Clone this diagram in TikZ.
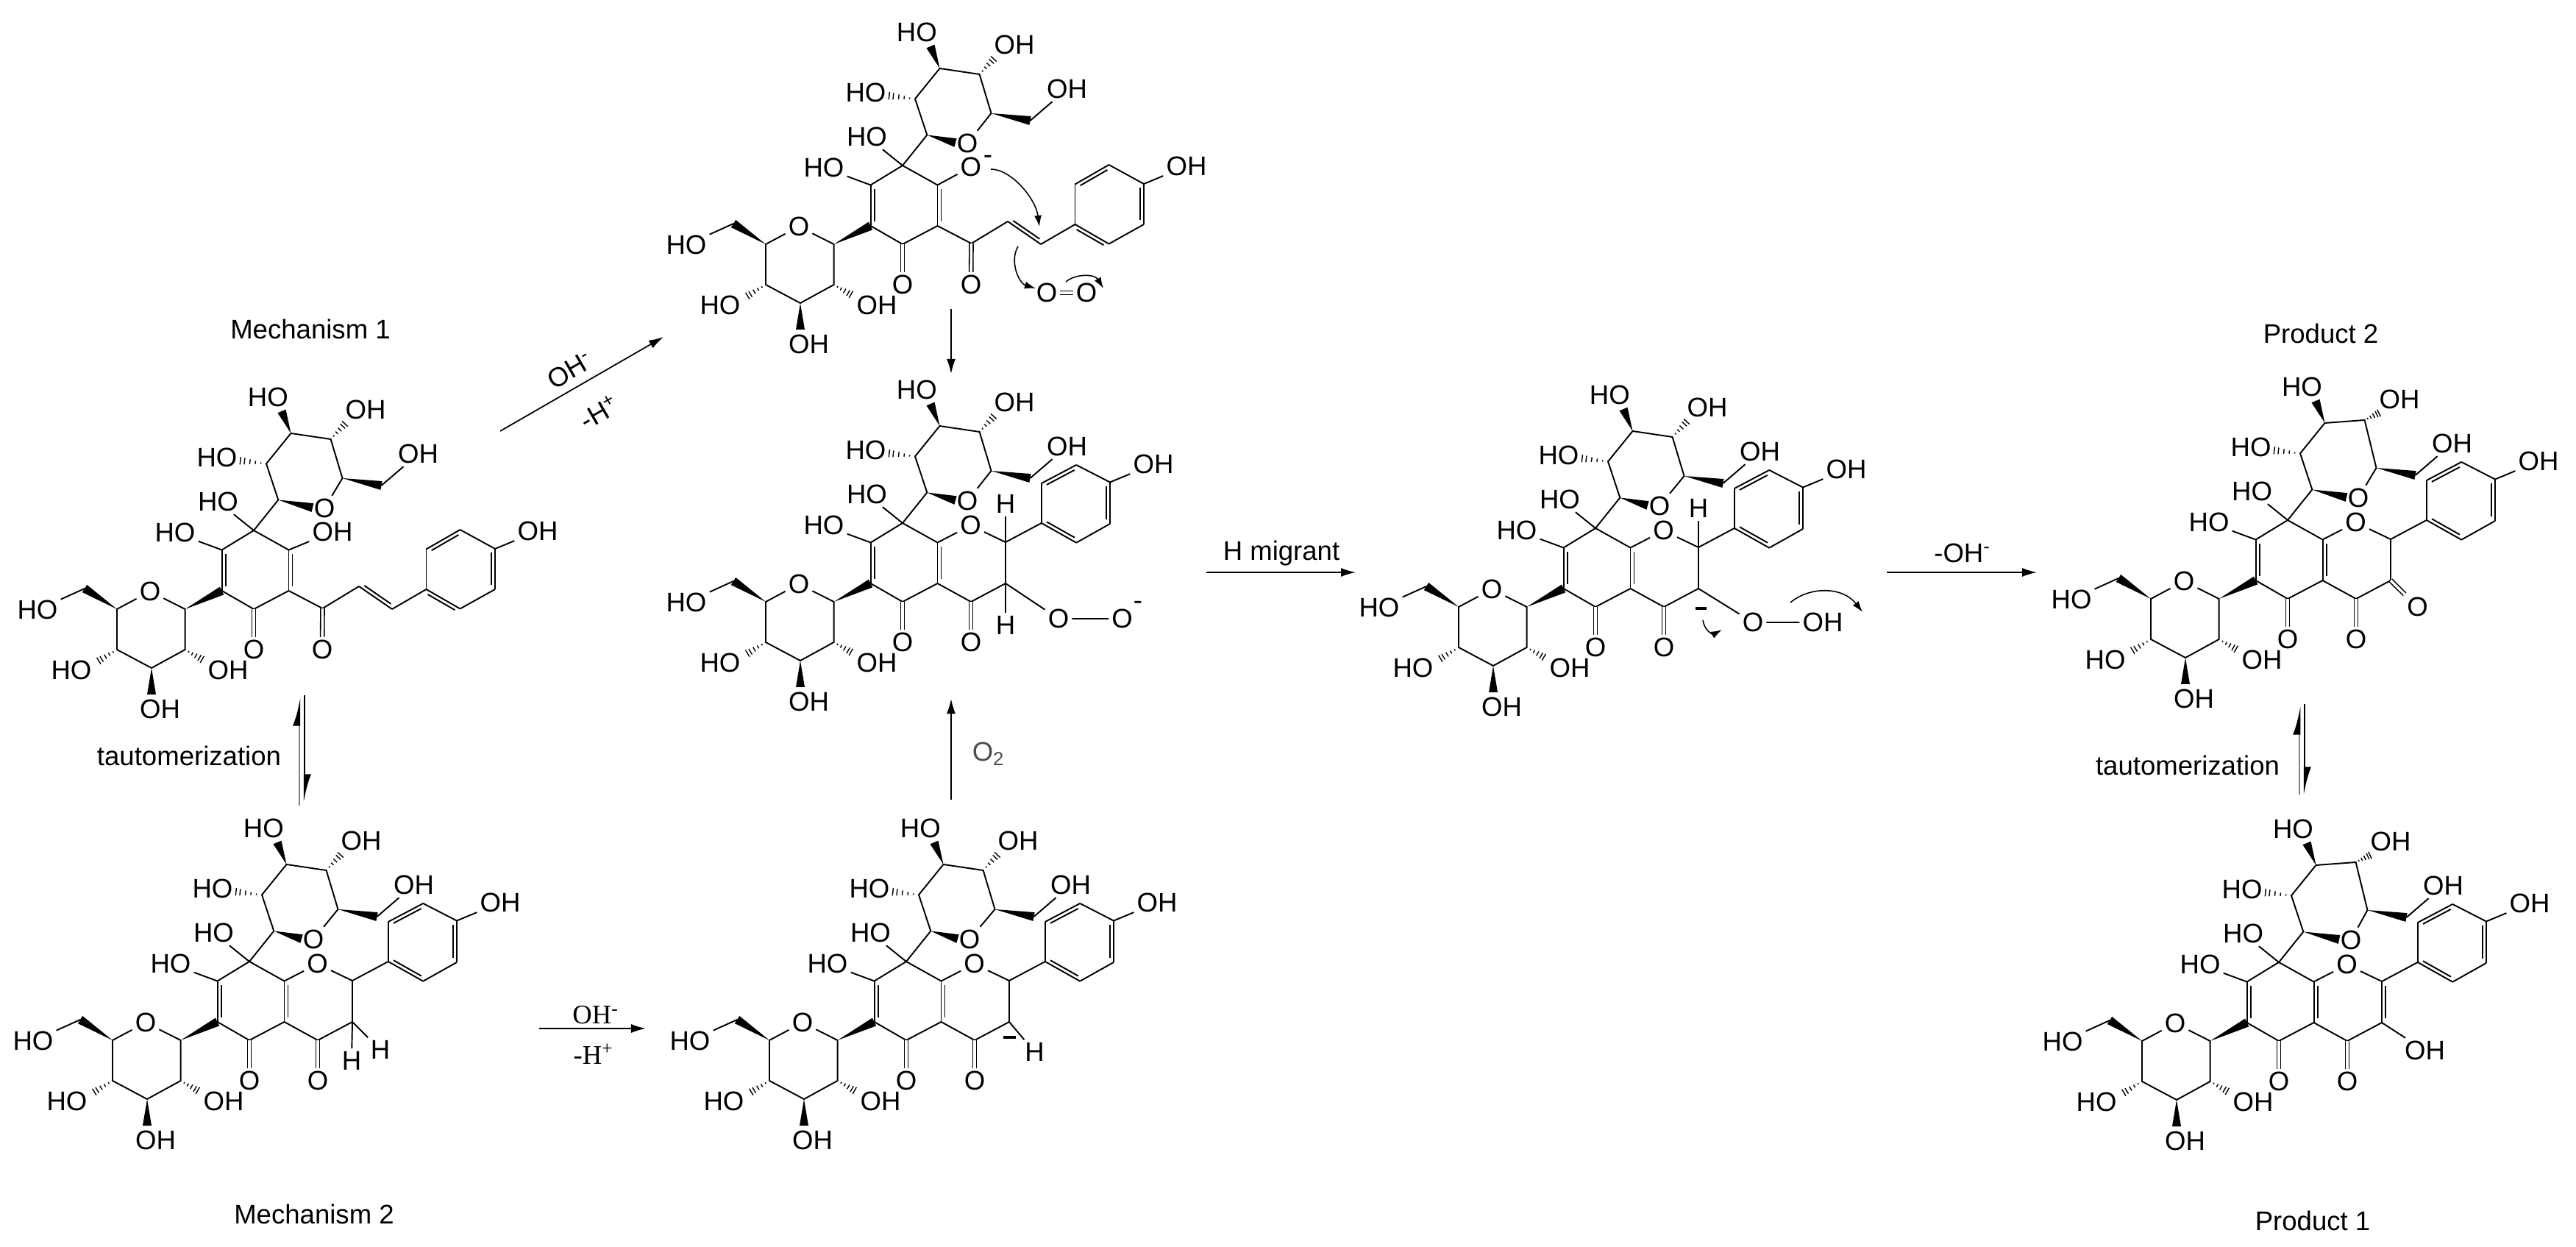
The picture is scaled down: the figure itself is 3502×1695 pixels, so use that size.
\documentclass[tikz,border=0pt]{standalone}
\usepackage{fontspec}
\setmainfont{Liberation Sans}
\newfontfamily\rxnserif{Liberation Serif}
\usetikzlibrary{positioning, arrows.meta, calc}

\tikzset{
  chemfont/.style={font=\fontsize{10.4}{12}\selectfont},
  atom/.style={chemfont, inner sep=1pt},
  bond/.style={line width=0.55pt},
  cobond/.style={line width=0.45pt, double, double distance=0.035cm},
  rxn/.style={line width=0.5pt, -{Latex[length=2mm,width=1.2mm]}},
  eqfwd/.style={line width=0.6pt, -{Latex[left,length=3.2mm,width=1.8mm]}},
  eqback/.style={line width=0.7pt, black!50, -{Latex[left,length=3.2mm,width=1.8mm,color=black]}},
  curl/.style={line width=0.45pt, -{Latex[length=1.5mm,width=1mm]}},
}

\newcommand{\dblbond}[2]{
  \draw[bond] (#1) -- (#2);
  \draw[bond] ($(#1)!0.1!(#2)!0.05cm!90:(#2)$) -- ($(#2)!0.1!(#1)!0.05cm!-90:(#1)$);
}
\newcommand{\wedgebond}[2]{
  \fill (#1) -- ($(#2)!0.06cm!90:(#1)$) -- ($(#2)!0.06cm!-90:(#1)$) -- cycle;
}
\newcommand{\hashbond}[2]{
  \foreach \t in {0.2,0.4,0.6,0.8,0.95}{
    \draw[line width=0.4pt] ($(#1)!\t!(#2)!\t*0.055cm!90:(#2)$) -- ($(#1)!\t!(#2)!\t*0.055cm!-90:(#2)$);
  }
}

% #1 height of S4, #2 x of the upper ring oxygen
\newcommand{\corepart}[2]{
  \coordinate (Cc) at (0,0);
  \coordinate (Ca) at (-43.4,82);
  \coordinate (Cb) at (-43.4,26.5);
  \coordinate (Cd) at (47.5,26.5);
  \coordinate (Ce) at (47.5,82);
  \coordinate (Cf) at (0,107);
  \node[atom] (Of) at (0,162) {O};
  \node[atom] (HOb) at (-107,3) {HO};
  \node[atom] (HOc) at (-48.5,-39) {HO};
  \dblbond{Cb}{Ca}
  \dblbond{Cd}{Ce}
  \draw[bond] (Cb) -- (Cc) -- (Cd);
  \draw[bond] (Ca) -- (Cf) -- (Ce);
  \draw[bond] (Cb) -- (HOb);
  \draw[bond] (Cc) -- (HOc);
  \draw[cobond] (Cf) -- (Of);

  \coordinate (B1) at (-93.4,107);
  \coordinate (B5) at (-186,107);
  \coordinate (B4) at (-186,162);
  \coordinate (B3) at (-139,187);
  \coordinate (B2) at (-93.4,162);
  \coordinate (Bm) at (-230,79);
  \node[atom] (BO) at (-141,83) {O};
  \node[atom] (HOm) at (-294,108) {HO};
  \node[atom] (HO4) at (-248,190) {HO};
  \node[atom] (OH2) at (-35,190) {OH};
  \node[atom] (OH3) at (-127.5,243) {OH};
  \coordinate (B3w) at (-139,223);
  \coordinate (B4h) at (-212,178);
  \coordinate (B2h) at (-69,176);
  \draw[bond] (B1) -- (BO) -- (B5) -- (B4) -- (B3) -- (B2) -- (B1);
  \draw[bond] (Bm) -- (HOm);
  \wedgebond{B1}{Ca}
  \wedgebond{B5}{Bm}
  \wedgebond{B3}{B3w}
  \hashbond{B4}{B4h}
  \hashbond{B2}{B2h}

  \coordinate (S1) at (33.3,-41.5);
  \coordinate (S2) at (17,-90.7);
  \coordinate (S3) at (50.5,-132);
  \coordinate (S4) at (104.6,#1);
  \coordinate (S5) at (120.5,-71);
  \coordinate (Sm) at (173.5,-61);
  \node[atom] (SO) at (#2,-30) {O};
  \node[atom] (OHm) at (223.5,-104) {OH};
  \node[atom] (HOs2) at (-50,-99) {HO};
  \node[atom] (HOs3) at (19.4,-181) {HO};
  \node[atom] (OHs4) at (152,-164) {OH};
  \coordinate (S1w) at ($(SO)+(-16,-1)$);
  \coordinate (S3w) at (38,-162);
  \coordinate (S2h) at (-20,-95);
  \coordinate (S4h) at (125,-146);
  \draw[bond] (Cc) -- (S1) -- (S2) -- (S3) -- (S4) -- (S5) -- (SO);
  \draw[bond] (Sm) -- (OHm);
  \wedgebond{S1}{S1w}
  \wedgebond{S5}{Sm}
  \wedgebond{S3}{S3w}
  \hashbond{S2}{S2h}
  \hashbond{S4}{S4h}
}

\newcommand{\chalconepart}{
  \coordinate (Ci) at (93.5,106);
  \coordinate (V1) at (143,76);
  \coordinate (V2) at (188,107);
  \coordinate (Q1) at (234.5,80);
  \coordinate (Q2) at (234.5,25.5);
  \coordinate (Q3) at (280.5,-1);
  \coordinate (Q4) at (328,25);
  \coordinate (Q5) at (328,80);
  \coordinate (Q6) at (280.5,106.5);
  \node[atom] (Oi) at (93,162) {O};
  \node[atom] (OHq) at (386,1) {OH};
  \draw[bond] (Ce) -- (Ci) -- (V1);
  \draw[cobond] (Ci) -- (Oi);
  \dblbond{V1}{V2}
  \draw[bond] (V2) -- (Q1);
  \dblbond{Q6}{Q1}
  \dblbond{Q3}{Q2}
  \dblbond{Q5}{Q4}
  \draw[bond] (Q1) -- (Q2);
  \draw[bond] (Q3) -- (Q4);
  \draw[bond] (Q5) -- (Q6);
  \draw[bond] (Q4) -- (OHq);
}

\newcommand{\flavanpart}{
  \coordinate (Cg) at (140,26);
  \coordinate (Ch) at (140,82);
  \coordinate (Ci) at (93,107);
  \coordinate (P1) at (188.8,0);
  \coordinate (P2) at (188.8,-54);
  \coordinate (P3) at (236.2,-79);
  \coordinate (P4) at (282,-55.5);
  \coordinate (P5) at (282,1);
  \coordinate (P6) at (236.2,26.7);
  \node[atom] (Op) at (92.5,3.3) {O};
  \node[atom] (Oi) at (93,162) {O};
  \node[atom] (OHp) at (341,-80) {OH};
  \draw[bond] (Cd) -- (Op) -- (Cg) -- (P1);
  \draw[bond] (Ce) -- (Ci) -- (Ch);
  \draw[cobond] (Ci) -- (Oi);
  \dblbond{P1}{P6}
  \dblbond{P3}{P2}
  \dblbond{P5}{P4}
  \draw[bond] (P1) -- (P2);
  \draw[bond] (P3) -- (P4);
  \draw[bond] (P5) -- (P6);
  \draw[bond] (P4) -- (OHp);
}

\begin{document}
\begin{tikzpicture}[x=0.01cm, y=-0.01cm]
\useasboundingbox (0,0) rectangle (3502,1695);

\begin{scope}[shift={(345,721)}, name prefix=mecha-]
\corepart{-124}{96}
\chalconepart
\node[atom] (OHd) at (107,2) {OH};
\draw[bond] (Cd) -- (OHd);
\end{scope}

\begin{scope}[shift={(339,1307)}, name prefix=mechb-]
\corepart{-124}{87}
\flavanpart
\node[atom] (Hr) at (178,120) {H};
\node[atom] (Hd) at (139,135) {H};
\draw[bond] (Cg) -- (Ch) -- (Hd);
\draw[bond] (Ch) -- (Hr);
\end{scope}

\begin{scope}[shift={(1227,225)}, name prefix=enol-]
\corepart{-124}{88}
\chalconepart
\node[atom] (Od) at (92.9,2) {O};
\node[atom, inner sep=0pt] (Odm) at (116,-8) {-};
\draw[bond] (Cd) -- (Od);
\end{scope}

\begin{scope}[shift={(1227,711)}, name prefix=peroxy-]
\corepart{-124}{88}
\flavanpart
\node[atom] (Ht) at (140,-26) {H};
\node[atom] (Hd) at (140,139) {H};
\node[atom] (Oa) at (212,130) {O};
\node[atom] (Ob) at (298.5,130) {O};
\node[atom, inner sep=0pt] (Obm) at (320,112) {-};
\draw[bond] (Ht) -- (Cg) -- (Ch) -- (Hd);
\draw[bond] (Ch) -- (Oa) -- (Ob);
\end{scope}

\begin{scope}[shift={(1232,1307)}, name prefix=anion-]
\corepart{-124}{86}
\flavanpart
\node[atom] (Hr) at (174.5,123) {H};
\draw[bond] (Cg) -- (Ch) -- (Hr);
\draw[line width=1pt] (131.5,103) -- (149,103);
\end{scope}

\begin{scope}[shift={(2169,718)}, name prefix=perox-]
\corepart{-124}{87}
\flavanpart
\node[atom] (Ht) at (140,-27) {H};
\node[atom] (Oa) at (214,128) {O};
\node[atom] (Hy) at (309,128) {OH};
\draw[bond] (Ht) -- (Cg) -- (Ch);
\draw[bond] (Ch) -- (Oa) -- (Hy);
\draw[line width=1pt] (136,109) -- (151,109);
\end{scope}

\begin{scope}[shift={(3110,707)}, name prefix=prodb-]
\corepart{-136}{96}
\flavanpart
\node[atom] (Ok) at (176.5,118) {O};
\draw[bond] (Cg) -- (Ch);
\draw[cobond] (Ch) -- (Ok);
\end{scope}

\begin{scope}[shift={(3098,1308)}, name prefix=proda-]
\corepart{-136}{98}
\flavanpart
\node[atom] (OHo) at (198.5,120) {OH};
\dblbond{Cg}{Ch}
\draw[bond] (Ch) -- (OHo);
\end{scope}

\coordinate (cA) at (680,586);
\coordinate (cB) at (902,458);
\draw[rxn] (cA) -- (cB);
\node[chemfont, inner sep=0pt, rotate=30] (lblohA) at (775,503) {OH\textsuperscript{-}};
\node[chemfont, inner sep=0pt, rotate=30] (lblhA) at (815,560) {-H\textsuperscript{+}};

\coordinate (cC) at (733,1398);
\coordinate (cD) at (878,1398);
\draw[rxn] (cC) -- (cD);
\node[chemfont, inner sep=0pt] (lblohB) at (810,1380) {\rxnserif OH\textsuperscript{-}};
\node[chemfont, inner sep=0pt] (lblhB) at (807,1433) {\rxnserif -H\textsuperscript{+}};

\coordinate (cE) at (1293,420);
\coordinate (cF) at (1293,508);
\draw[rxn] (cE) -- (cF);
\coordinate (cG) at (1293,1087);
\coordinate (cH) at (1293,950);
\draw[rxn] (cG) -- (cH);
\node[chemfont, inner sep=0pt, text=black!70] (lbloxy) at (1344,1025) {O\textsubscript{2}};

\coordinate (cI) at (1640,778);
\coordinate (cJ) at (1843,778);
\draw[rxn] (cI) -- (cJ);
\node[chemfont, inner sep=0pt] (lblmig) at (1742,752) {H migrant};

\coordinate (cK) at (2565,778);
\coordinate (cL) at (2769,778);
\draw[rxn] (cK) -- (cL);
\node[chemfont, inner sep=0pt] (lblloss) at (2668,752) {-OH\textsuperscript{-}};

\coordinate (eA) at (407,1095);
\coordinate (eB) at (407,948);
\coordinate (eC) at (414,945);
\coordinate (eD) at (414,1090);
\draw[eqback] (eA) -- (eB);
\draw[eqfwd] (eC) -- (eD);
\node[chemfont, inner sep=0pt] (lbltautA) at (257,1027) {tautomerization};

\coordinate (eE) at (3126,1080);
\coordinate (eF) at (3126,960);
\coordinate (eG) at (3133,957);
\coordinate (eH) at (3133,1080);
\draw[eqback] (eE) -- (eF);
\draw[eqfwd] (eG) -- (eH);
\node[chemfont, inner sep=0pt] (lbltautB) at (2974,1040) {tautomerization};

\coordinate (pA) at (1347,230);
\coordinate (pB) at (1413,308);
\draw[curl] (pA) .. controls (1375,230) and (1408,270) .. (pB);
\coordinate (pC) at (1384,335);
\coordinate (pD) at (1408,392);
\draw[curl] (pC) .. controls (1372,355) and (1385,385) .. (pD);
\node[atom] (oxA) at (1423,398) {O};
\node[atom] (oxB) at (1477,398) {O};
\draw[cobond] (oxA) -- (oxB);
\coordinate (pE) at (1449,383);
\coordinate (pF) at (1500,392);
\draw[curl] (pE) .. controls (1462,372) and (1488,372) .. (pF);

\coordinate (pG) at (2315,843);
\coordinate (pH) at (2341,856);
\draw[curl] (pG) .. controls (2318,860) and (2330,862) .. (pH);
\coordinate (pI) at (2434,819);
\coordinate (pJ) at (2532,832);
\draw[curl] (pI) .. controls (2460,797) and (2505,797) .. (pJ);

\node[chemfont, inner sep=0pt] (lblmechA) at (422,447) {Mechanism 1};
\node[chemfont, inner sep=0pt] (lblmechB) at (427,1650) {Mechanism 2};
\node[chemfont, inner sep=0pt] (lblprodB) at (3155,453) {Product 2};
\node[chemfont, inner sep=0pt] (lblprodA) at (3144,1659) {Product 1};
\end{tikzpicture}
\end{document}
